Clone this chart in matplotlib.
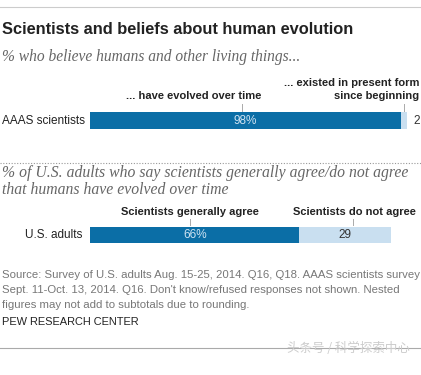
import matplotlib
matplotlib.use("Agg")
import matplotlib.pyplot as plt
from matplotlib.lines import Line2D

W, H = 421, 375
DARK = "#0b6ea6"
LIGHT = "#c9dff0"

# data
groups1 = ["AAAS scientists"]
evolved = [98]
existed = [2]
groups2 = ["U.S. adults"]
agree = [66]
not_agree = [29]

fig = plt.figure(figsize=(W / 100, H / 100), dpi=100)
fig.patch.set_facecolor("white")

def T(x, y, s, **kw):
    fig.text(x / W, 1 - y / H, s, **kw)

def hline(y, x0=0, x1=W, **kw):
    fig.add_artist(Line2D([x0 / W, x1 / W], [1 - y / H, 1 - y / H], transform=fig.transFigure, **kw))

SANS = "Liberation Sans"
SERIF = "Liberation Serif"

hline(7, color="#cccccc", lw=0.8)
T(2, 29, "Scientists and beliefs about human evolution", fontsize=11.8, fontweight="bold",
  family=SANS, va="center", ha="left", color="#222222")
T(2, 57, "% who believe humans and other living things...", fontsize=11.2, style="italic",
  family=SERIF, va="center", ha="left", color="#666666")

px_per = 3.173
x0px = 90

def bar_axes(ytop, h):
    ax = fig.add_axes([x0px / W, 1 - (ytop + h) / H, 100 * px_per / W, h / H])
    ax.set_xlim(0, 100)
    ax.set_ylim(-0.5, 0.5)
    ax.axis("off")
    return ax

ax1 = bar_axes(112, 17)
ax1.barh(groups1, evolved, height=1.0, color=DARK, linewidth=0)
ax1.barh(groups1, existed, left=evolved, height=1.0, color=LIGHT, linewidth=0)
ax1.text(evolved[0] / 2, 0, f"{evolved[0]}%", color="#cfe3f2", ha="center", va="center",
         fontsize=8.5, family=SANS)
ax1.text(evolved[0] + existed[0] + 2, 0, f"{existed[0]}", color="#333333", ha="left", va="center",
         fontsize=8.5, family=SANS)
T(2, 121, groups1[0], fontsize=8.5, family=SANS, va="center", ha="left", color="#222222")

T(194, 96, "... have evolved over time", fontsize=8, fontweight="bold", family=SANS,
  ha="center", va="center", color="#222222")
T(419, 83, "... existed in present form", fontsize=8, fontweight="bold", family=SANS,
  ha="right", va="center", color="#222222")
T(419, 96, "since beginning", fontsize=8, fontweight="bold", family=SANS,
  ha="right", va="center", color="#222222")
for xp in (242, 404):
    fig.add_artist(Line2D([xp / W, xp / W], [1 - 104 / H, 1 - 111 / H], transform=fig.transFigure,
                          color="#aaaaaa", lw=0.7))

hline(163, color="#999999", lw=0.8, ls=(0, (1, 1.5)))

T(2, 173, "% of U.S. adults who say scientists generally agree/do not agree", fontsize=11.3,
  style="italic", family=SERIF, va="center", ha="left", color="#666666")
T(2, 190, "that humans have evolved over time", fontsize=11.3,
  style="italic", family=SERIF, va="center", ha="left", color="#666666")

ax2 = bar_axes(227, 16)
ax2.barh(groups2, agree, height=1.0, color=DARK, linewidth=0)
ax2.barh(groups2, not_agree, left=agree, height=1.0, color=LIGHT, linewidth=0)
ax2.text(agree[0] / 2, 0, f"{agree[0]}%", color="#cfe3f2", ha="center", va="center",
         fontsize=8.5, family=SANS)
ax2.text(agree[0] + not_agree[0] / 2, 0, f"{not_agree[0]}", color="#333333", ha="center", va="center",
         fontsize=8.5, family=SANS)
T(82, 235, groups2[0], fontsize=8.5, family=SANS, va="center", ha="right", color="#222222")

T(190, 212, "Scientists generally agree", fontsize=8, fontweight="bold", family=SANS,
  ha="center", va="center", color="#222222")
T(354, 212, "Scientists do not agree", fontsize=8, fontweight="bold", family=SANS,
  ha="center", va="center", color="#222222")
for xp in (190, 353):
    fig.add_artist(Line2D([xp / W, xp / W], [1 - 219 / H, 1 - 225 / H], transform=fig.transFigure,
                          color="#aaaaaa", lw=0.7))

src_lines = ["Source: Survey of U.S. adults Aug. 15-25, 2014. Q16, Q18. AAAS scientists survey",
             "Sept. 11-Oct. 13, 2014. Q16. Don't know/refused responses not shown. Nested",
             "figures may not add to subtotals due to rounding."]
for i, line in enumerate(src_lines):
    T(2, 275 + 15 * i, line, fontsize=8.2, family=SANS, va="center", ha="left", color="#777777")
T(2, 322, "PEW RESEARCH CENTER", fontsize=7.9, family=SANS, va="center", ha="left", color="#222222")

hline(348, color="#aaaaaa", lw=0.8)
T(410, 348, "头条号 / 科学探索中心", fontsize=9, family=["Noto Sans CJK SC", "DejaVu Sans"],
  va="center", ha="right", color="#cccccc")

fig.savefig("out.png", dpi=100, facecolor="white")
